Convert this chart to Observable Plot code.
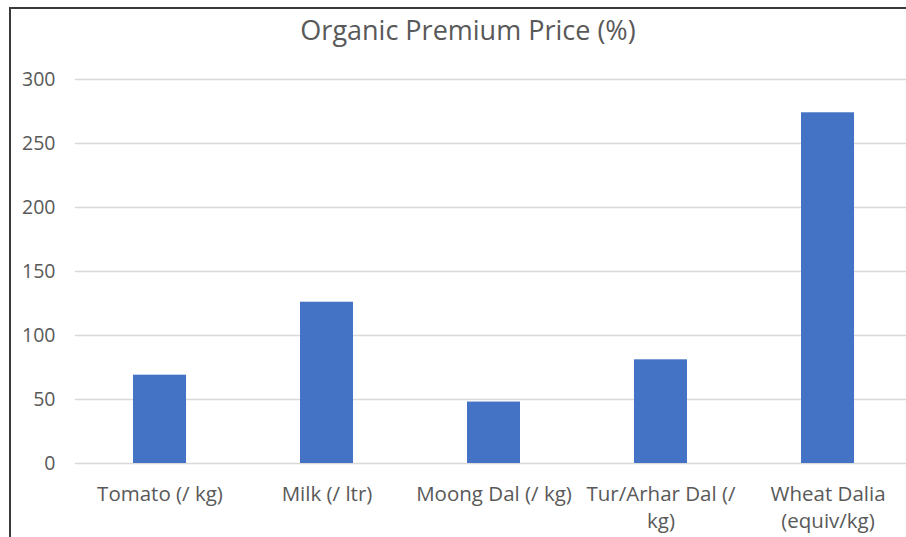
<!DOCTYPE html>
<html><head><meta charset="utf-8">
<script src="https://cdn.jsdelivr.net/npm/d3@7"></script>
<script src="https://cdn.jsdelivr.net/npm/@observablehq/plot@0.6"></script>
<style>
html,body{margin:0;padding:0;background:#fff;overflow:hidden;width:906px;height:537px}
#frame{position:absolute;left:9px;top:7px;width:1000px;height:1000px;border:2px solid #3a3a3a;box-sizing:border-box}
#title{position:absolute;left:10px;width:916px;top:12px;text-align:center;font-family:"Open Sans";font-size:27px;color:#595959;line-height:36px}
#chart{position:absolute;left:0;top:60px}
</style></head><body>
<div id="frame"></div>
<div id="title">Organic Premium Price (%)</div>
<div id="chart"></div>
<script>
const categories = ["Tomato (/ kg)", "Milk (/ ltr)", "Moong Dal (/ kg)", "Tur/Arhar Dal (/ kg)", "Wheat Dalia (equiv/kg)"];
const tickLabels = ["Tomato (/ kg)", "Milk (/ ltr)", "Moong Dal (/ kg)", "Tur/Arhar Dal (/\nkg)", "Wheat Dalia\n(equiv/kg)"];
const values = [69, 126, 48, 81, 274];
const yTicks = [0, 50, 100, 150, 200, 250, 300];

const data = categories.map((c, i) => ({category: c, value: values[i]}));
const pad = 0.683;
const plot = Plot.plot({
  width: 906, height: 477, marginTop: 19, marginBottom: 74, marginLeft: 75, marginRight: 0,
  style: {fontFamily: "Open Sans", fontSize: "20px", color: "#595959", background: "transparent", overflow: "visible"},
  x: {domain: categories, range: [75.4, 911.8], paddingInner: pad, paddingOuter: pad / 2, align: 0.5, label: null},
  y: {domain: [0, 300], label: null},
  marks: [
    Plot.ruleY(yTicks, {stroke: "#d9d9d9", strokeWidth: 1.5}),
    Plot.barY(data, {x: "category", y: "value", fill: "#4472c4"}),
    Plot.axisY(yTicks, {tickSize: 0, tickPadding: 20, label: null, fill: "#595959", fontSize: 19.5}),
    Plot.axisX({tickSize: 0, tickPadding: 18, label: null, fill: "#595959", fontSize: 20.5, lineHeight: 1.33,
      tickFormat: d => tickLabels[categories.indexOf(d)]})
  ]
});
document.getElementById("chart").appendChild(plot);
</script>
</body></html>
